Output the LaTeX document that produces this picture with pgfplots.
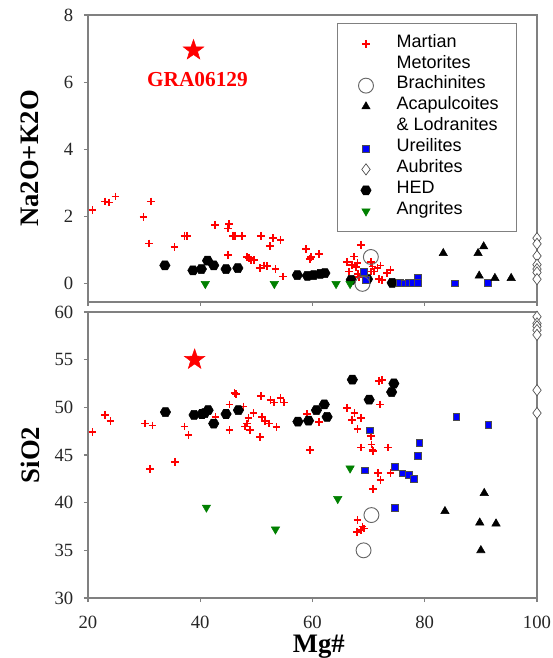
\documentclass[border=0pt]{standalone}
\usepackage{fontspec}
\setmainfont{Liberation Serif}
\newfontfamily\arial{Liberation Sans}
\usepackage{pgfplots}
\pgfplotsset{compat=1.18}

% filled hexagon and filled five-point star marks
\pgfdeclareplotmark{hexagon*}{%
  \pgfpathmoveto{\pgfpointpolar{0}{\pgfplotmarksize}}%
  \pgfpathlineto{\pgfpointpolar{60}{\pgfplotmarksize}}%
  \pgfpathlineto{\pgfpointpolar{120}{\pgfplotmarksize}}%
  \pgfpathlineto{\pgfpointpolar{180}{\pgfplotmarksize}}%
  \pgfpathlineto{\pgfpointpolar{240}{\pgfplotmarksize}}%
  \pgfpathlineto{\pgfpointpolar{300}{\pgfplotmarksize}}%
  \pgfpathclose\pgfusepathqfillstroke}
\pgfdeclareplotmark{fstar}{%
  \pgfpathmoveto{\pgfpointpolar{90}{\pgfplotmarksize}}%
  \pgfpathlineto{\pgfpointpolar{126}{0.40\pgfplotmarksize}}%
  \pgfpathlineto{\pgfpointpolar{162}{\pgfplotmarksize}}%
  \pgfpathlineto{\pgfpointpolar{198}{0.40\pgfplotmarksize}}%
  \pgfpathlineto{\pgfpointpolar{234}{\pgfplotmarksize}}%
  \pgfpathlineto{\pgfpointpolar{270}{0.40\pgfplotmarksize}}%
  \pgfpathlineto{\pgfpointpolar{306}{\pgfplotmarksize}}%
  \pgfpathlineto{\pgfpointpolar{342}{0.40\pgfplotmarksize}}%
  \pgfpathlineto{\pgfpointpolar{18}{\pgfplotmarksize}}%
  \pgfpathlineto{\pgfpointpolar{54}{0.40\pgfplotmarksize}}%
  \pgfpathclose\pgfusepathqfillstroke}

\definecolor{angr}{RGB}{0,128,0}
\definecolor{axgray}{RGB}{128,128,128}

\pgfplotsset{
  panel/.style={
    scale only axis, width=336.75pt,
    xmin=20, xmax=100, xtick={20,40,60,80,100},
    tick align=outside, tick pos=left, major tick length=3pt,
    axis line style={axgray, line width=0.9pt},
    every tick/.style={axgray, line width=0.8pt},
    tick label style={font=\fontsize{14}{15}\selectfont, text=black!85},
    yticklabel style={xshift=-4.5pt},
    xticklabel style={yshift=-7pt},
    /pgf/number format/assume math mode=true,
    label style={font=\fontsize{20}{22}\selectfont\bfseries},
    ylabel style={at={(axis description cs:-0.129,0.5)}, anchor=center, rotate=0},
    clip=false,
  },
  mars/.style={only marks, mark=+, mark size=2.9pt, red, mark options={line width=1.3pt}},
  brach/.style={only marks, mark=o, mark size=5.6pt, black!60, mark options={line width=0.7pt, fill=none}},
  acap/.style={only marks, mark=triangle*, mark size=3.6pt, black},
  ureil/.style={only marks, mark=square*, mark size=2.5pt, draw=black!70, fill=blue, mark options={line width=0.4pt}},
  aubr/.style={only marks, mark=diamond*, mark size=4.2pt, draw=black!70, fill=white, mark options={line width=0.5pt}},
  hed/.style={only marks, mark=hexagon*, mark size=3.9pt, black},
  angrite/.style={only marks, mark=triangle*, mark size=3.6pt, angr, mark options={rotate=180}},
  gra/.style={only marks, mark=fstar, mark size=8pt, red},
}

\begin{document}
\begin{tikzpicture}
\path[use as bounding box] (-66pt,-45pt) rectangle (348.75pt,448.5pt);

% ---------- top panel: Na2O+K2O ----------
\begin{axis}[panel,
  at={(0pt,222pt)}, anchor=south west, height=215.25pt,
  ymin=-0.54, ymax=8, ytick={0,2,4,6,8}, xticklabels={},
  ylabel={Na2O+K2O},
  legend style={at={(0.5546,0.972)}, anchor=north west, draw=axgray,
    font=\arial\fontsize{13.5}{15.5}\selectfont, cells={anchor=west},
    nodes={inner sep=0.35pt, text height=10pt, text depth=5pt},
    row sep=0pt, column sep=17pt, inner xsep=13pt, inner ysep=7.5pt},
]
\addlegendimage{mars}\addlegendentry{Martian}
\addlegendimage{empty legend}\addlegendentry{Metorites}
\addlegendimage{brach}\addlegendentry{Brachinites}
\addlegendimage{acap}\addlegendentry{Acapulcoites}
\addlegendimage{empty legend}\addlegendentry{\& Lodranites}
\addlegendimage{ureil}\addlegendentry{Ureilites}
\addlegendimage{aubr}\addlegendentry{Aubrites}
\addlegendimage{hed}\addlegendentry{HED}
\addlegendimage{angrite}\addlegendentry{Angrites}

\addplot[mars, forget plot] coordinates {
 (20.8,2.2) (23.0,2.45) (23.8,2.42) (24.9,2.6) (29.9,2.0) (31.2,2.45) (30.9,1.2)
 (35.4,1.1) (37.2,1.43) (37.6,1.43) (42.6,1.75) (45.1,1.78) (44.9,1.65) (45.9,1.43)
 (46.2,1.43) (47.5,1.43) (45.0,0.86) (48.3,0.8) (48.7,0.76) (49.0,0.7) (49.6,0.71)
 (50.8,1.43) (52.4,1.12) (53.0,1.36) (54.3,1.3) (50.6,0.47) (51.3,0.55) (51.9,0.53)
 (53.4,0.44) (54.8,0.22) (58.9,1.03) (59.5,0.73) (59.7,0.8) (61.1,0.89) (68.6,1.16)
 (66.1,0.66) (67.4,0.81) (67.1,0.57) (67.7,0.5) (68.0,0.62) (66.5,0.37) (68.1,0.3)
 (68.3,0.2) (70.4,0.66) (70.7,0.52) (71.6,0.47) (72.1,0.55) (70.9,0.37) (70.4,0.37)
 (73.3,0.32) (73.9,0.42) (71.8,0.14) (72.4,0.12)
};
\addplot[hed, forget plot] coordinates {
 (33.7,0.55) (38.7,0.4) (40.2,0.44) (41.3,0.69) (42.4,0.55) (44.6,0.44) (46.7,0.47)
 (57.3,0.26) (59.1,0.24) (60.2,0.26) (61.4,0.3) (62.2,0.32) (66.9,0.12) (69.8,0.14)
 (74.2,0.03)
};
\addplot[angrite, forget plot] coordinates {(40.9,0) (53.2,0) (64.2,0) (66.7,0)};
\addplot[ureil, forget plot] coordinates {
 (69.1,0.35) (69.5,0.12) (75.6,0.04) (76.4,0.02) (77.1,0.03) (77.9,0.04) (78.7,0.18)
 (78.7,0.04) (85.4,0.02) (91.2,0.04)
};
\addplot[brach, forget plot] coordinates {(70.4,0.8) (68.9,0.0)};
\addplot[acap, forget plot] coordinates {
 (83.3,0.91) (89.5,0.91) (90.5,1.11) (89.7,0.24) (92.5,0.17) (95.4,0.17)
};
\addplot[aubr, forget plot] coordinates {
 (100,1.36) (100,1.19) (100,0.83) (100,0.57) (100,0.44) (100,0.34) (100,0.14)
};
\addplot[gra, forget plot] coordinates {(38.8,6.95)};
\node[text=red, font=\fontsize{16}{18}\selectfont\bfseries] at (axis cs:39.5,6.07) {GRA06129};
\end{axis}

% ---------- bottom panel: SiO2 ----------
\begin{axis}[panel,
  at={(0pt,0pt)}, anchor=south west, height=214.5pt,
  ymin=30, ymax=60, ytick={30,35,...,60},
  ylabel={SiO2}, xlabel={Mg\#},
  xlabel style={at={(axis description cs:0.514,-0.192)}, anchor=base},
]
\addplot[mars] coordinates {
 (20.8,47.4) (23.0,49.2) (24.0,48.6) (30.1,48.3) (31.5,48.1) (31.1,43.5) (35.5,44.3)
 (37.2,48.0) (37.9,47.1) (42.7,49.0) (45.2,50.3) (46.1,51.5) (46.4,51.4) (45.2,47.6)
 (47.7,50.1) (49.5,49.4) (48.6,48.9) (48.3,48.3) (48.0,48.0) (48.9,47.6) (50.8,51.2)
 (51.0,49.0) (51.6,48.6) (52.3,48.3) (52.5,50.8) (53.1,50.5) (54.3,51.0) (54.9,50.5)
 (53.6,47.9) (50.7,46.9) (59.0,49.3) (61.1,48.5) (59.6,45.5) (71.8,52.8) (72.4,52.9)
 (72.0,50.3) (66.2,49.9) (67.5,49.4) (67.1,48.7) (68.7,48.9) (68.0,47.7) (70.4,47.0)
 (68.7,45.8) (70.5,46.1) (70.7,45.5) (70.8,45.4) (73.4,45.8) (71.7,43.1) (73.9,43.1)
 (72.1,42.4) (70.8,41.4) (68.0,38.2) (68.9,37.5) (68.6,37.1) (67.9,36.9) (69.2,37.3)
};
\addplot[hed] coordinates {
 (33.8,49.5) (38.9,49.2) (40.3,49.3) (40.8,49.4) (41.4,49.7) (42.4,48.3) (44.6,49.3)
 (46.8,49.7) (57.4,48.5) (59.3,48.6) (60.7,49.7) (62.1,50.3) (62.6,49.0) (67.1,52.9)
 (74.5,52.5) (74.1,51.6) (70.1,50.8)
};
\addplot[angrite] coordinates {(41.1,39.5) (53.4,37.2) (64.5,40.4) (66.7,43.6)};
\addplot[ureil] coordinates {
 (70.2,47.6) (79.0,46.3) (78.7,44.9) (69.3,43.4) (74.6,43.8) (76.0,43.1) (77.2,42.9)
 (78.0,42.5) (74.6,39.5) (85.6,49.0) (91.3,48.2)
};
\addplot[brach] coordinates {(70.5,38.7) (69.1,35.0)};
\addplot[acap] coordinates {(90.6,41.0) (83.6,39.1) (89.8,37.9) (92.7,37.8) (90.0,35.0)};
\addplot[aubr] coordinates {
 (100,59.5) (100,58.8) (100,58.5) (100,58.1) (100,57.6) (100,51.8) (100,49.4)
};
\addplot[gra] coordinates {(39.0,55.0)};
\end{axis}
\end{tikzpicture}
\end{document}
